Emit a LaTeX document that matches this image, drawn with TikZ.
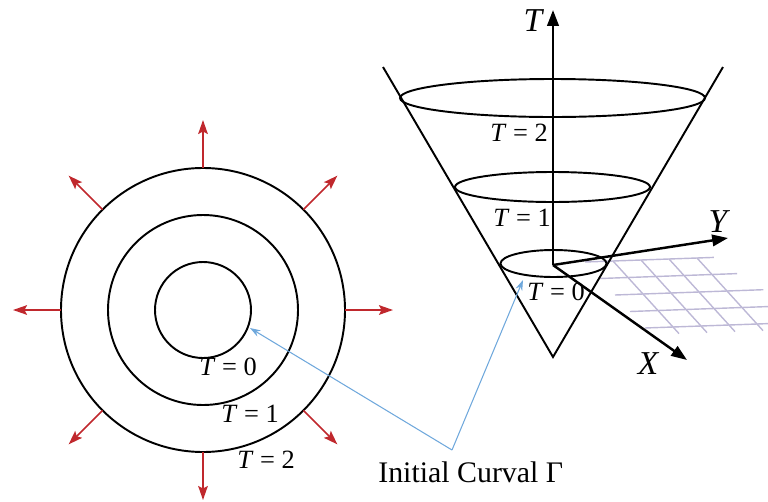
\documentclass[tikz,border=0pt]{standalone}
\usepackage{fontspec}
\setmainfont{Liberation Serif}
\usetikzlibrary{arrows.meta,calc}
\definecolor{growRed}{HTML}{C0282D}
\definecolor{curveBlue}{HTML}{6FA8DC}
\definecolor{gridLilac}{HTML}{BDB8D6}

\begin{document}
\begin{tikzpicture}[
    x=0.02cm, y=-0.02cm,
    level/.style={line width=1.1pt},
    axis/.style={-{Triangle[length=9pt,width=6.5pt]}, line width=1.4pt},
    spread/.style={-{Stealth[length=8pt,width=5.5pt,inset=1.5pt]}, growRed, line width=0.9pt},
    pointer/.style={-{Stealth[length=6pt,width=4pt]}, curveBlue, line width=0.6pt},
    tlabel/.style={font=\fontsize{15}{18}\selectfont, inner sep=1pt},
    axlabel/.style={font=\fontsize{19}{22}\selectfont\itshape, inner sep=1pt}
  ]
  \useasboundingbox (0,0) rectangle (768,501);

  % level sets in the plane
  \coordinate (ctr) at (203,310);
  \foreach \r in {48,95,142}
    \draw[level] (ctr) circle[radius=\r];
  \foreach \a in {0,45,...,315}
    \draw[spread] ($(ctr)+(\a:142)$) -- ($(ctr)+(\a:190)$);
  \node[tlabel] (lt0) at (228,367) {\textit{T} = 0};
  \node[tlabel] (lt1) at (250,414) {\textit{T} = 1};
  \node[tlabel] (lt2) at (266,460) {\textit{T} = 2};

  % XY plane grid
  \coordinate (g0) at (585,262);
  \coordinate (gu) at (28,-1);
  \coordinate (gv) at (15,16.5);
  \foreach \j/\len in {0/4.6,1/4.9,2/5.3,3/5.1,4/4.4}
    \draw[gridLilac, line width=0.8pt] ($(g0)+\j*(gv)$) -- ($(g0)+\j*(gv)+\len*(gu)$);
  \foreach \i in {1,...,4}
    \draw[gridLilac, line width=0.8pt] ($(g0)+\i*(gu)$) -- ($(g0)+\i*(gu)+4.4*(gv)$);

  % cone
  \coordinate (O) at (553,265);
  \coordinate (apex) at (553,357);
  \coordinate (rimL) at (383,67);
  \coordinate (rimR) at (723,67);
  \draw[level] (rimL) -- (apex) -- (rimR);
  \coordinate (e2) at (552.5,98);
  \coordinate (e1) at (552.5,187);
  \coordinate (e0) at (553.5,263.5);
  \draw[level] (e2) ellipse[x radius=152.5, y radius=19];
  \draw[level] (e1) ellipse[x radius=97.5, y radius=15];
  \draw[level] (e0) ellipse[x radius=53, y radius=13.5];
  \node[tlabel] (ct2) at (519,133) {\textit{T} = 2};
  \node[tlabel] (ct1) at (522,218) {\textit{T} = 1};
  \node[tlabel] (ct0) at (556,292) {\textit{T} = 0};

  % axes
  \coordinate (tEnd) at (553,10);
  \coordinate (yEnd) at (728,238);
  \coordinate (xEnd) at (687,360);
  \draw[axis] (O) -- (tEnd);
  \draw[axis] (O) -- (yEnd);
  \draw[axis] (O) -- (xEnd);
  \node[axlabel] (tlab) at (533,21) {T};
  \node[axlabel] (ylab) at (718,222) {Y};
  \node[axlabel] (xlab) at (648,364) {X};

  % initial curve pointers
  \node[font=\fontsize{17}{20}\selectfont, inner sep=0pt, anchor=base west] (initlab) at (378,482) {Initial Curval Γ};
  \coordinate (bend) at (452,450);
  \coordinate (hit0) at (250,328);
  \coordinate (hit1) at (523,280);
  \draw[pointer] (bend) -- (hit0);
  \draw[pointer] (bend) -- (hit1);
\end{tikzpicture}
\end{document}
